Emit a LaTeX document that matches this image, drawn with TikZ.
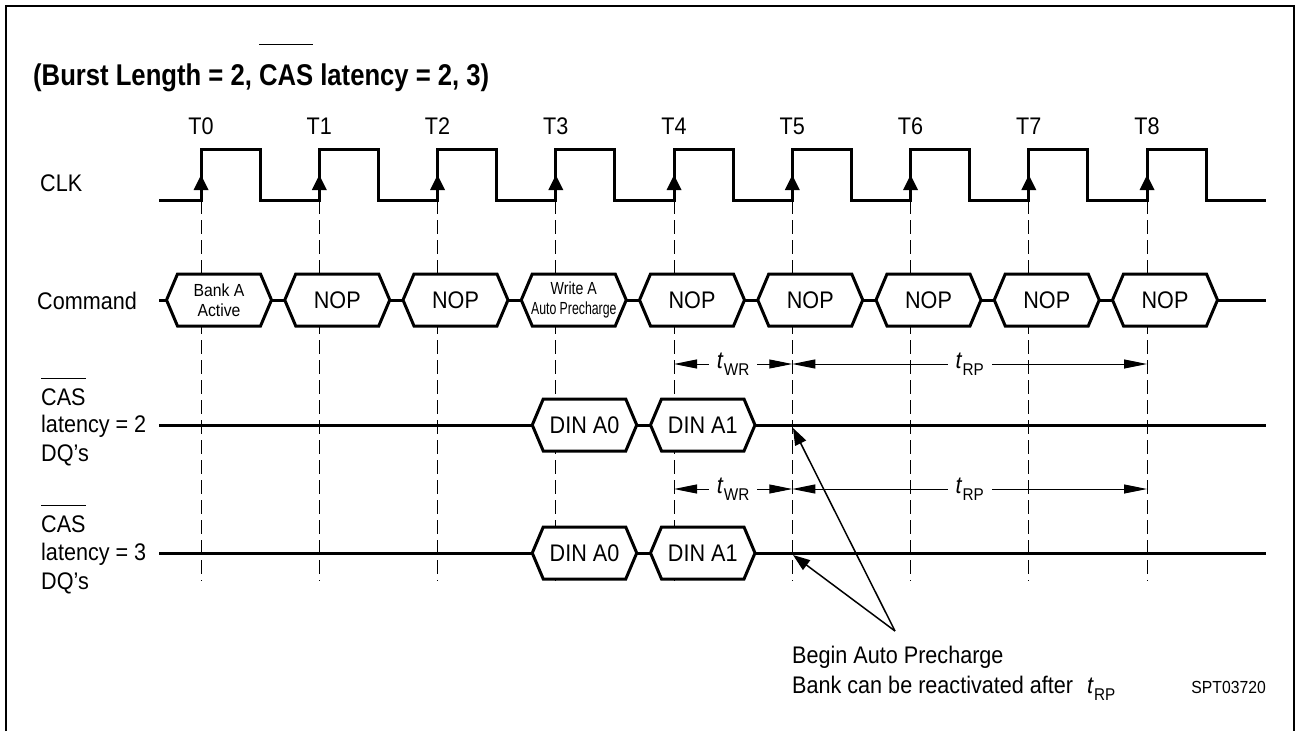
\documentclass[tikz,border=0pt]{standalone}
\usepackage{fontspec}
\usepackage{graphicx}
\setmainfont{Liberation Sans}[FakeStretch=0.9]
\usetikzlibrary{arrows.meta}
\newcommand\fsz[2]{\fontsize{#1}{#2}\selectfont}
\newcommand\myovl[3]{\setbox0=\hbox{#1}\rlap{\rule[#2]{\wd0}{#3}}\box0\relax}
\newcommand\tsub[1]{{\itshape t}\kern1pt\raisebox{-7pt}{\fsz{17}{17}#1}}
\newcommand\hexnode[6]{%
  \draw[hexb] (#2,#4) -- (#2+11,#4-26) -- (#3-11,#4-26) -- (#3,#4) -- (#3-11,#4+26) -- (#2+11,#4+26) -- cycle;
  \coordinate (#1-l) at (#2,#4);
  \coordinate (#1-r) at (#3,#4);
  \node[#5] (#1) at ({(#2+#3)/2},#4) {#6};}
\newcommand\cmdhex[4]{\hexnode{#1}{#2-34.5}{#2+70.5}{300}{#3}{#4}}
\newcommand\dinhex[4]{\hexnode{#1}{#2-23.5}{#2+81}{#3}{lbl}{#4}}
\begin{document}
\begin{tikzpicture}[x=1pt,y=-1pt,
  sig/.style={line width=3pt, line join=miter},
  hexb/.style={line width=3pt, fill=white, line join=miter},
  vdash/.style={line width=1pt, dash pattern=on 14pt off 6pt},
  dimline/.style={line width=1pt, {Triangle[length=23pt,width=9pt]}-{Triangle[length=23pt,width=9pt]}},
  ann/.style={line width=1.5pt, -{Triangle[length=17pt,width=12pt]}},
  lbl/.style={inner sep=0pt, font=\fsz{24}{28}},
  smalltxt/.style={inner sep=0pt, font=\fsz{17.5}{20}},
  dimlbl/.style={fill=white, inner xsep=8pt, inner ysep=1pt, font=\fsz{24}{28}},
]
\useasboundingbox (0,0) rectangle (1300,731);
\fill[white] (0,0) rectangle (1300,731);
\draw[line width=2pt] (6,731) -- (6,5.5) -- (1294,5.5) -- (1294,731);

% dashed clock-edge guides
\foreach \i in {0,...,8}
  \draw[vdash] ({201+118.25*\i},200) -- ({201+118.25*\i},581);

% clock
\draw[sig] (159,200) \foreach \i in {0,...,8} {
    -- ({201+118.25*\i},200) -- ({201+118.25*\i},149)
    -- ({260+118.25*\i},149) -- ({260+118.25*\i},200) } -- (1266,200);
\foreach \i in {0,...,8}
  \fill ({201+118.25*\i},175) -- ++(-7.5,15) -- ++(15,0) -- cycle;
\foreach \i in {0,...,8}
  \node[lbl, anchor=base] (t\i) at ({201+118.25*\i},134) {T\i};

% title
\node[anchor=base west, inner sep=0pt, font=\fsz{30}{32}\bfseries] (title) at (33,85)
  {\scalebox{0.95}[1]{(Burst Length = 2, \myovl{CAS}{40pt}{1.2pt} latency = 2, 3)}};

% row labels
\node[lbl, anchor=base west] (clk) at (40,191) {CLK};
\node[lbl, anchor=base west] (cmd) at (37,309) {Command};
\node[lbl, anchor=base west] (casA1) at (41,405) {\myovl{CAS}{26pt}{1pt}};
\node[lbl, anchor=base west] (casA2) at (41,432) {latency = 2};
\node[lbl, anchor=base west] (casA3) at (41,461) {DQ’s};
\node[lbl, anchor=base west] (casB1) at (41,532) {\myovl{CAS}{26pt}{1pt}};
\node[lbl, anchor=base west] (casB2) at (41,560) {latency = 3};
\node[lbl, anchor=base west] (casB3) at (41,589) {DQ’s};

% command bus
\cmdhex{c0}{201}{smalltxt, align=center}{Bank A\\Active}
\cmdhex{c1}{319.25}{lbl}{NOP}
\cmdhex{c2}{437.5}{lbl}{NOP}
\cmdhex{c3}{555.75}{smalltxt, align=center}{\scalebox{0.9}[1]{Write A}\\\scalebox{0.78}[1]{Auto Precharge}}
\cmdhex{c4}{674}{lbl}{NOP}
\cmdhex{c5}{792.25}{lbl}{NOP}
\cmdhex{c6}{910.5}{lbl}{NOP}
\cmdhex{c7}{1028.75}{lbl}{NOP}
\cmdhex{c8}{1147}{lbl}{NOP}
\coordinate (cs) at (159,300);
\coordinate (ce) at (1266,300);
\draw[sig] (cs) -- (c0-l);
\draw[sig] (c0-r) -- (c1-l);
\draw[sig] (c1-r) -- (c2-l);
\draw[sig] (c2-r) -- (c3-l);
\draw[sig] (c3-r) -- (c4-l);
\draw[sig] (c4-r) -- (c5-l);
\draw[sig] (c5-r) -- (c6-l);
\draw[sig] (c6-r) -- (c7-l);
\draw[sig] (c7-r) -- (c8-l);
\draw[sig] (c8-r) -- (ce);

% DQ rows
\dinhex{a0}{555.75}{425}{DIN A0}
\dinhex{a1}{674}{425}{DIN A1}
\coordinate (as) at (159,425);
\coordinate (ae) at (1266,425);
\draw[sig] (as) -- (a0-l);
\draw[sig] (a0-r) -- (a1-l);
\draw[sig] (a1-r) -- (ae);

\dinhex{b0}{555.75}{553}{DIN A0}
\dinhex{b1}{674}{553}{DIN A1}
\coordinate (bs) at (159,553);
\coordinate (be) at (1266,553);
\draw[sig] (bs) -- (b0-l);
\draw[sig] (b0-r) -- (b1-l);
\draw[sig] (b1-r) -- (be);

% timing dimensions
\coordinate (w1a) at (674,364);
\coordinate (w1b) at (792.25,364);
\coordinate (w1c) at (1147,364);
\draw[dimline] (w1a) -- node[dimlbl] (twr1) {\tsub{WR}} (w1b);
\draw[dimline] (w1b) -- node[dimlbl] (trp1) {\tsub{RP}} (w1c);
\coordinate (w2a) at (674,489);
\coordinate (w2b) at (792.25,489);
\coordinate (w2c) at (1147,489);
\draw[dimline] (w2a) -- node[dimlbl] (twr2) {\tsub{WR}} (w2b);
\draw[dimline] (w2b) -- node[dimlbl] (trp2) {\tsub{RP}} (w2c);

% annotation
\node[lbl, anchor=base west] (note1) at (792,663) {Begin Auto Precharge};
\node[lbl, anchor=base west] (note2) at (792,693) {Bank can be reactivated after\kern8pt\ \tsub{RP}};
\node[smalltxt, anchor=base east] (code) at (1266,693) {SPT03720};
\coordinate (apex) at (895,631);
\coordinate (tipA) at (793,428);
\coordinate (tipB) at (793,555);
\draw[ann] (apex) -- (tipA);
\draw[ann] (apex) -- (tipB);
\end{tikzpicture}
\end{document}
